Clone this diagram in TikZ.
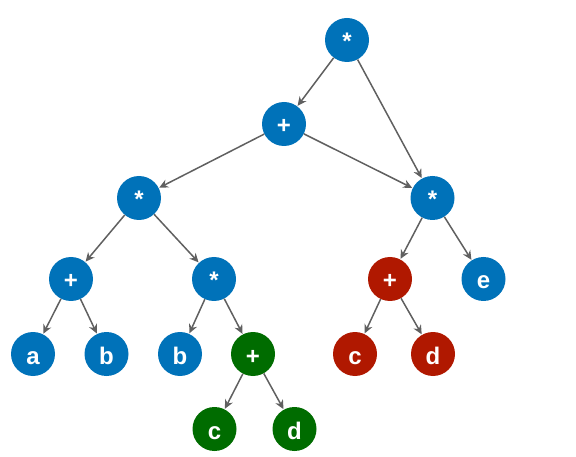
\documentclass[tikz,border=0pt]{standalone}
\usepackage{fontspec}
\setmainfont{Liberation Sans}
\usetikzlibrary{arrows.meta}
\definecolor{nblue}{RGB}{0,114,185}
\definecolor{nred}{RGB}{176,24,0}
\definecolor{ngreen}{RGB}{0,108,0}
\definecolor{edgec}{RGB}{96,96,96}
\tikzset{
  opnode/.style={circle, minimum size=44pt, inner sep=0pt, text=white, text height=20pt, text depth=0pt, font=\fontsize{24}{24}\selectfont\bfseries},
  bluen/.style={opnode, fill=nblue},
  redn/.style={opnode, fill=nred},
  greenn/.style={opnode, fill=ngreen},
  conn/.style={draw=edgec, line width=1.5pt, -{Stealth[length=9pt,width=8.5pt]}, shorten >=0.5pt}
}
\begin{document}
\begin{tikzpicture}[x=1pt,y=-1pt]
\useasboundingbox (0,0) rectangle (576,457);
\node[bluen] (r) at (347,40) {*};
\node[bluen] (p1) at (284,124) {+};
\node[bluen] (m1) at (139,198) {*};
\node[bluen] (m2) at (432.5,198) {*};
\node[bluen] (p2) at (71,279) {+};
\node[bluen] (m3) at (214,279) {*};
\node[redn] (p3) at (390,279) {+};
\node[bluen] (e) at (483.5,279) {e};
\node[bluen] (a) at (33,354) {a};
\node[bluen] (b1) at (106.5,354) {b};
\node[bluen] (b2) at (180,354) {b};
\node[greenn] (p4) at (253,354) {+};
\node[redn] (c1) at (355,354) {c};
\node[redn] (d1) at (433,354) {d};
\node[greenn] (c2) at (214.5,429) {c};
\node[greenn] (d2) at (294.5,429) {d};
\draw[conn] (r) -- (p1);
\draw[conn] (r) -- (m2);
\draw[conn] (p1) -- (m1);
\draw[conn] (p1) -- (m2);
\draw[conn] (m1) -- (p2);
\draw[conn] (m1) -- (m3);
\draw[conn] (m2) -- (p3);
\draw[conn] (m2) -- (e);
\draw[conn] (p2) -- (a);
\draw[conn] (p2) -- (b1);
\draw[conn] (m3) -- (b2);
\draw[conn] (m3) -- (p4);
\draw[conn] (p3) -- (c1);
\draw[conn] (p3) -- (d1);
\draw[conn] (p4) -- (c2);
\draw[conn] (p4) -- (d2);
\end{tikzpicture}
\end{document}
